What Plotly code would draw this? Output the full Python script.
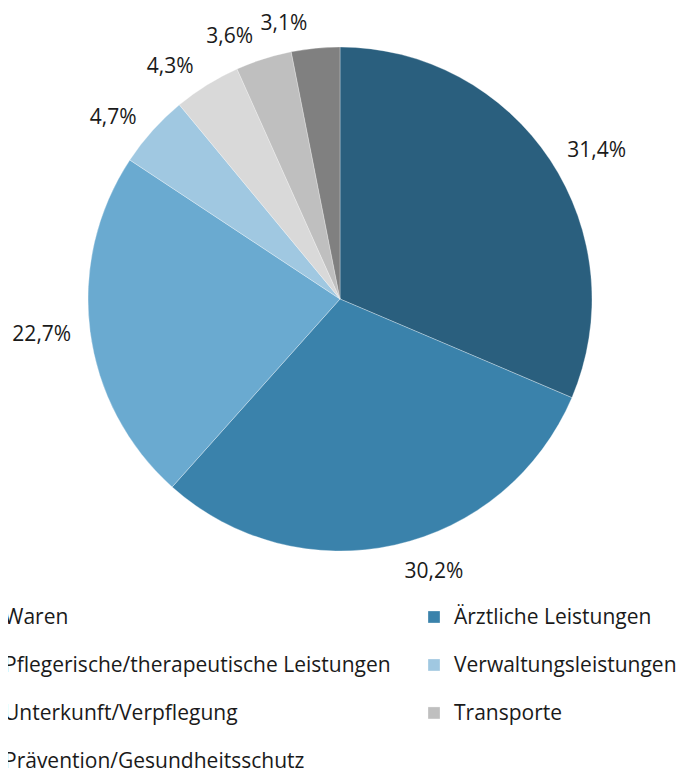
import plotly.graph_objects as go

categories = ["Waren", "Ärztliche Leistungen", "Pflegerische/therapeutische Leistungen",
              "Verwaltungsleistungen", "Unterkunft/Verpflegung", "Transporte",
              "Prävention/Gesundheitsschutz"]
shares = [31.4, 30.2, 22.7, 4.7, 4.3, 3.6, 3.1]
colors = ["#2a5f7e", "#3a82ab", "#6aaad0", "#a0c8e1", "#d9d9d9", "#bfbfbf", "#808080"]

FONT = "Open Sans"
W, H = 1000, 772
PH = 580          # height of the plot area; the legend sits below it
B = H - PH
CX, CY = 332, 291  # pie centre (px)
R = 252            # pie radius (px)
RL = 264           # radius used to place the outside labels (px)


def dom(r):
    return dict(x=[(CX - r) / W, (CX + r) / W], y=[(PH - CY - r) / PH, (PH - CY + r) / PH])


legend_labels = ['<span style="font-size:21px;baseline-shift:6px">%s</span>' % c
                 for c in categories]

n = len(shares)
textfont = dict(size=21, color="#1a1a1a", family=FONT)
clear = ["rgba(0,0,0,0)"] * n

fig = go.Figure()
# visible pie
fig.add_trace(go.Pie(
    labels=legend_labels, values=shares, sort=False,
    direction="clockwise", rotation=0,
    marker=dict(colors=colors, line=dict(width=0.5, color="rgba(255,255,255,0.6)")),
    textinfo="none", hoverinfo="skip", domain=dom(R),
))
# transparent copies of the same slices that carry the percentage labels
for positions in (["outside"] * (n - 1) + ["none"], ["none"] * (n - 1) + ["outside"]):
    fig.add_trace(go.Pie(
        labels=legend_labels, values=shares, sort=False,
        direction="clockwise", rotation=0,
        marker=dict(colors=clear, line=dict(width=0)),
        texttemplate="%{value:.1f}%", textposition=positions,
        textfont=textfont, hoverinfo="skip", showlegend=False,
        domain=dom(RL),
    ))

fig.update_layout(
    width=W, height=H,
    separators=",.",
    margin=dict(l=0, r=0, t=0, b=B, autoexpand=False),
    paper_bgcolor="white", plot_bgcolor="white",
    font=dict(family=FONT, color="#1a1a1a"),
    showlegend=True,
    legend=dict(
        orientation="h",
        x=-44 / W, xanchor="left",
        y=0, yanchor="top",
        entrywidth=405, entrywidthmode="pixels",
        font=dict(size=34.6, family=FONT, color="#1a1a1a"),
        bgcolor="rgba(0,0,0,0)",
    ),
)

fig.write_html("out.html")
